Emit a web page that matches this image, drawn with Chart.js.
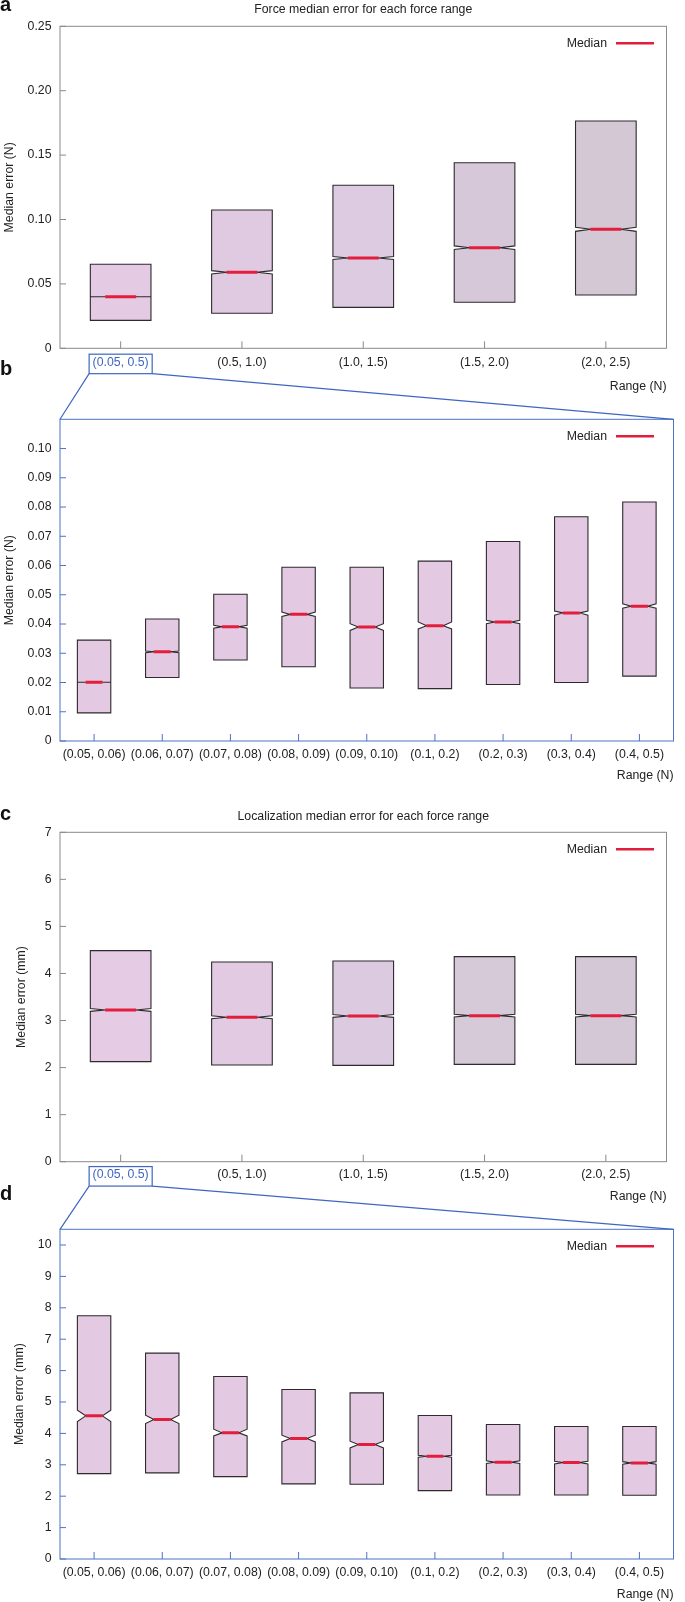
<!DOCTYPE html>
<html>
<head>
<meta charset="utf-8">
<script src="https://cdn.jsdelivr.net/npm/chart.js@4.4.0/dist/chart.umd.min.js"></script>
<style>
html, body { margin: 0; padding: 0; background: #fff; }
body { width: 685px; height: 1602px; position: relative; overflow: hidden; }
canvas { position: absolute; left: 0; }
.tag { position: absolute; left: 0; font: bold 20px "Liberation Sans", Arial, sans-serif; line-height: 20px; color: #111; }
</style>
</head>
<body>
<canvas id="chartA" style="top:0px" width="685" height="395"></canvas>
<canvas id="chartB" style="top:395px" width="685" height="392"></canvas>
<canvas id="chartC" style="top:787px" width="685" height="421"></canvas>
<canvas id="chartD" style="top:1208px" width="685" height="394"></canvas>
<canvas id="overlay" style="top:0px;pointer-events:none" width="685" height="1602"></canvas>
<div class="tag" style="top:-6px">a</div>
<div class="tag" style="top:358px">b</div>
<div class="tag" style="top:803px">c</div>
<div class="tag" style="top:1183px">d</div>
<script>
// ---- data ----
const catsWide = ['(0.05, 0.5)', '(0.5, 1.0)', '(1.0, 1.5)', '(1.5, 2.0)', '(2.0, 2.5)'];
const catsZoom = ['(0.05, 0.06)', '(0.06, 0.07)', '(0.07, 0.08)', '(0.08, 0.09)', '(0.09, 0.10)',
                  '(0.1, 0.2)', '(0.2, 0.3)', '(0.3, 0.4)', '(0.4, 0.5)'];

// a: force error, wide ranges
const q1A = [0.0217, 0.0272, 0.0318, 0.0357, 0.0414];
const q3A = [0.0652, 0.1074, 0.1266, 0.1441, 0.1765];
const medA = [0.0400, 0.0590, 0.0701, 0.0781, 0.0924];
const loA = [0.0400, 0.0577, 0.0689, 0.0767, 0.0908];
const hiA = [0.0400, 0.0603, 0.0713, 0.0795, 0.0940];
const yTicksA = [0, 0.05, 0.10, 0.15, 0.20, 0.25];

// b: force error, zoomed ranges
const q1B = [0.0096, 0.0217, 0.0277, 0.0254, 0.0181, 0.0179, 0.0193, 0.0200, 0.0222];
const q3B = [0.0345, 0.0417, 0.0502, 0.0594, 0.0594, 0.0615, 0.0682, 0.0767, 0.0817];
const medB = [0.0201, 0.0305, 0.0391, 0.0433, 0.0390, 0.0394, 0.0407, 0.0438, 0.0461];
const loB = [0.0201, 0.0302, 0.0386, 0.0426, 0.0378, 0.0383, 0.0401, 0.0430, 0.0454];
const hiB = [0.0201, 0.0308, 0.0396, 0.0441, 0.0401, 0.0407, 0.0413, 0.0444, 0.0469];
const yTicksB = [0, 0.01, 0.02, 0.03, 0.04, 0.05, 0.06, 0.07, 0.08, 0.09, 0.10];

// c: localization error, wide ranges
const q1C = [2.126, 2.055, 2.048, 2.069, 2.069];
const q3C = [4.486, 4.245, 4.266, 4.359, 4.359];
const medC = [3.225, 3.069, 3.097, 3.104, 3.104];
const loC = [3.195, 3.039, 3.067, 3.074, 3.074];
const hiC = [3.255, 3.099, 3.127, 3.134, 3.134];
const yTicksC = [0, 1, 2, 3, 4, 5, 6, 7];

// d: localization error, zoomed ranges
const q1D = [2.72, 2.742, 2.625, 2.391, 2.38, 2.178, 2.04, 2.04, 2.03];
const q3D = [7.747, 6.557, 5.813, 5.398, 5.292, 4.57, 4.283, 4.219, 4.219];
const medD = [4.559, 4.442, 4.017, 3.836, 3.645, 3.273, 3.082, 3.071, 3.06];
const loD = [4.378, 4.315, 3.921, 3.73, 3.539, 3.241, 3.04, 3.03, 3.02];
const hiD = [4.74, 4.58, 4.134, 3.943, 3.751, 3.305, 3.125, 3.11, 3.10];
const yTicksD = [0, 1, 2, 3, 4, 5, 6, 7, 8, 9, 10];

const colA = ['#e4cae2', '#e0cae2', '#dccbe1', '#d6c8d8', '#d4c8d5'];
const colC = ['#e6cbe4', '#e1cae2', '#dccae1', '#d6c9d8', '#d5c8d6'];
const colZoom = '#e3c9e1';

const RED = '#e31e3c';
const BLUE = '#3f66c2';
const GREY = '#8a8a8a';
const FAMILY = '"Liberation Sans", Arial, Helvetica, sans-serif';
const FS = 12.3;
const F = { family: FAMILY, size: FS };

// notched boxes, drawn from the bar elements + y scale
function notchPlugin(cfg) {
    return {
        id: 'notch',
        beforeDatasetsDraw(chart) {
            const ctx = chart.ctx;
            const y = chart.scales.y;
            const bars = chart.getDatasetMeta(0).data;
            ctx.save();
            bars.forEach(function (bar, i) {
                const l = bar.x - bar.width / 2;
                const r = bar.x + bar.width / 2;
                const ind = bar.width / 4;
                const y1 = y.getPixelForValue(cfg.q1[i]);
                const y3 = y.getPixelForValue(cfg.q3[i]);
                const ym = y.getPixelForValue(cfg.med[i]);
                const yl = y.getPixelForValue(cfg.lo[i]);
                const yh = y.getPixelForValue(cfg.hi[i]);
                ctx.beginPath();
                ctx.moveTo(l, y3);
                ctx.lineTo(r, y3);
                ctx.lineTo(r, yh);
                ctx.lineTo(r - ind, ym);
                ctx.lineTo(r, yl);
                ctx.lineTo(r, y1);
                ctx.lineTo(l, y1);
                ctx.lineTo(l, yl);
                ctx.lineTo(l + ind, ym);
                ctx.lineTo(l, yh);
                ctx.closePath();
                ctx.fillStyle = Array.isArray(cfg.colors) ? cfg.colors[i] : cfg.colors;
                ctx.fill();
                ctx.strokeStyle = '#2e2a2e';
                ctx.lineWidth = 1.1;
                ctx.lineJoin = 'miter';
                ctx.stroke();
            });
            ctx.restore();
        }
    };
}

// frame, inward ticks, legend and title
function framePlugin(cfg) {
    return {
        id: 'frame',
        afterDraw(chart) {
            const ctx = chart.ctx;
            const a = chart.chartArea;
            const sx = chart.scales.x, sy = chart.scales.y;
            ctx.save();
            ctx.strokeStyle = cfg.color;
            ctx.lineWidth = 1;
            ctx.strokeRect(a.left, a.top, a.right - a.left, a.bottom - a.top);
            ctx.beginPath();
            sy.ticks.forEach(function (t, i) {
                const py = sy.getPixelForTick(i);
                ctx.moveTo(a.left, py);
                ctx.lineTo(a.left + 6, py);
            });
            sx.ticks.forEach(function (t, i) {
                const px = sx.getPixelForTick(i);
                ctx.moveTo(px, a.bottom);
                ctx.lineTo(px, a.bottom - 7);
            });
            ctx.stroke();

            // legend
            const ds = chart.data.datasets[1];
            const ly = a.top + 17;
            ctx.font = FS + 'px ' + FAMILY;
            ctx.fillStyle = '#222';
            ctx.textAlign = 'right';
            ctx.textBaseline = 'middle';
            ctx.fillText(ds.label, cfg.legendX, ly);
            ctx.strokeStyle = ds.pointBorderColor;
            ctx.lineWidth = 2.5;
            ctx.beginPath();
            ctx.moveTo(cfg.legendX + 9, ly);
            ctx.lineTo(cfg.legendX + 47, ly);
            ctx.stroke();

            if (cfg.title) {
                ctx.textAlign = 'center';
                ctx.fillText(cfg.title, (a.left + a.right) / 2, cfg.titleY);
            }
            ctx.restore();
        }
    };
}

function makeChart(id, cfg) {
    return new Chart(document.getElementById(id), {
        data: {
            labels: cfg.cats,
            datasets: [{
                type: 'bar',
                label: 'Box',
                data: cfg.q1.map(function (v, i) { return [v, cfg.q3[i]]; }),
                backgroundColor: 'rgba(0,0,0,0)',
                borderWidth: 0,
                barPercentage: cfg.barPct,
                categoryPercentage: 1
            }, {
                type: 'line',
                label: 'Median',
                data: cfg.med,
                showLine: false,
                pointStyle: 'line',
                pointRadius: cfg.medR,
                pointHoverRadius: cfg.medR,
                pointBorderWidth: 3,
                pointBorderColor: RED,
                pointBackgroundColor: RED
            }]
        },
        options: {
            responsive: false,
            animation: false,
            layout: { padding: { left: 0, right: cfg.padR, top: cfg.padT, bottom: 0 } },
            plugins: {
                legend: { display: false },
                tooltip: { enabled: false }
            },
            scales: {
                x: {
                    type: 'category',
                    offset: true,
                    afterFit: function (s) { s.height = cfg.xH; },
                    grid: { display: false, drawTicks: false },
                    border: { display: false },
                    ticks: {
                        padding: cfg.xPad,
                        autoSkip: false,
                        maxRotation: 0,
                        font: F,
                        color: function (c) { return (cfg.markFirst && c.index === 0) ? BLUE : '#222'; }
                    },
                    title: {
                        display: true, text: 'Range (N)', align: 'end', color: '#222', font: F,
                        padding: { top: 0, bottom: cfg.xTitlePad }
                    }
                },
                y: {
                    min: 0,
                    max: cfg.yMax,
                    afterBuildTicks: function (s) { s.ticks = cfg.yTicks.map(function (v) { return { value: v }; }); },
                    afterFit: function (s) { s.width = 60; },
                    grid: { display: false, drawTicks: false },
                    border: { display: false },
                    ticks: { padding: 8.5, font: F, color: '#222', callback: cfg.fmt },
                    title: {
                        display: true, text: cfg.yTitle, color: '#222', font: F,
                        padding: { top: cfg.yTitlePad, bottom: 0 }
                    }
                }
            }
        },
        plugins: [notchPlugin(cfg), framePlugin(cfg)]
    });
}

const fmt2 = function (v) { return v === 0 ? '0' : v.toFixed(2); };
const fmt0 = function (v) { return String(v); };

const chartA = makeChart('chartA', {
    cats: catsWide, q1: q1A, q3: q3A, med: medA, lo: loA, hi: hiA, colors: colA,
    yTicks: yTicksA, yMax: 0.25, fmt: fmt2, yTitle: 'Median error (N)', yTitlePad: 2.4,
    barPct: 0.5, medR: 15.5, padR: 1, padT: 26.3, xH: 46.7, xPad: 7, xTitlePad: 0.9,
    markFirst: true, color: GREY, legendX: 607,
    title: 'Force median error for each force range', titleY: 9.5
});
const chartB = makeChart('chartB', {
    cats: catsZoom, q1: q1B, q3: q3B, med: medB, lo: loB, hi: hiB, colors: colZoom,
    yTicks: yTicksB, yMax: 0.11, fmt: fmt2, yTitle: 'Median error (N)', yTitlePad: 2.4,
    barPct: 0.49, medR: 8.5, padR: 5, padT: 24.3, xH: 46, xPad: 6, xTitlePad: 3.6,
    markFirst: false, color: '#4d72c8', legendX: 607
});
const chartC = makeChart('chartC', {
    cats: catsWide, q1: q1C, q3: q3C, med: medC, lo: loC, hi: hiC, colors: colC,
    yTicks: yTicksC, yMax: 7, fmt: fmt0, yTitle: 'Median error (mm)', yTitlePad: 14.4,
    barPct: 0.5, medR: 15.5, padR: 2, padT: 45.3, xH: 46.3, xPad: 6, xTitlePad: 3.6,
    markFirst: true, color: GREY, legendX: 607,
    title: 'Localization median error for each force range', titleY: 29.7
});
const chartD = makeChart('chartD', {
    cats: catsZoom, q1: q1D, q3: q3D, med: medD, lo: loD, hi: hiD, colors: colZoom,
    yTicks: yTicksD, yMax: 10.5, fmt: fmt0, yTitle: 'Median error (mm)', yTitlePad: 12.7,
    barPct: 0.49, medR: 8.5, padR: 2, padT: 21.3, xH: 43, xPad: 6, xTitlePad: 0,
    markFirst: false, color: '#4d72c8', legendX: 607
});

// zoom connectors: box round the first wide range label, lines to the zoomed panel
function drawZoom(ctx, top, offTop, bottom, offBot, padX) {
    const sx = top.scales.x;
    const px = sx.getPixelForTick(0);
    const cy = offTop + sx.top + padX + FS * 0.6;
    ctx.font = FS + 'px ' + FAMILY;
    const w = ctx.measureText(top.data.labels[0]).width;
    const rl = px - w / 2 - 3.5, rr = px + w / 2 + 3.5;
    const rt = cy - 8.5, rb = cy + 11;
    ctx.strokeStyle = BLUE;
    ctx.lineWidth = 1.2;
    ctx.strokeRect(rl, rt, rr - rl, rb - rt);
    const a = bottom.chartArea;
    ctx.beginPath();
    ctx.moveTo(rl, rb);
    ctx.lineTo(a.left, offBot + a.top);
    ctx.moveTo(rr, rb);
    ctx.lineTo(a.right, offBot + a.top);
    ctx.stroke();
}

const ov = document.getElementById('overlay').getContext('2d');
drawZoom(ov, chartA, 0, chartB, 395, 7);
drawZoom(ov, chartC, 787, chartD, 1208, 6);
</script>
</body>
</html>
